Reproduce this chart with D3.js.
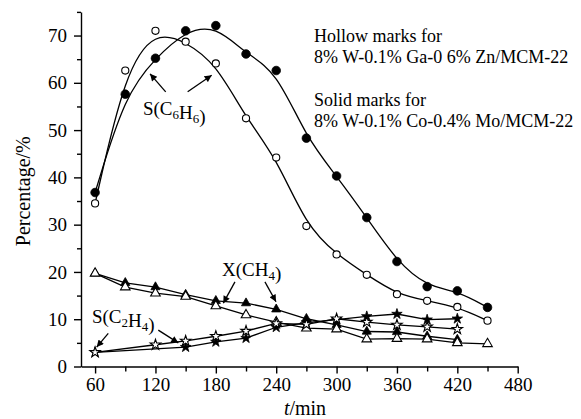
<!DOCTYPE html>
<html>
<head>
<meta charset="utf-8">
<script src="https://cdn.jsdelivr.net/npm/d3@7/dist/d3.min.js"></script>
<style>
  html, body { margin: 0; padding: 0; background: #fff; }
  svg { display: block; }
  text { font-family: "Liberation Serif", "Times New Roman", serif; fill: #000; }
</style>
</head>
<body>
<svg id="chart" width="581" height="419"></svg>
<script>
// Reaction time (min)
const timeAll = [60, 90, 120, 150, 180, 210, 240, 270, 300, 330, 360, 390, 420, 450];
// Benzene selectivity S(C6H6), %
const benzeneHollow = [34.5, 62.6, 71.0, 68.7, 64.1, 52.5, 44.2, 29.7, 23.7, 19.4, 15.3, 13.9, 12.6, 9.7];
const benzeneSolid  = [36.8, 57.6, 65.2, 71.0, 72.1, 66.1, 62.6, 48.3, 40.3, 31.5, 22.2, 16.9, 16.0, 12.5];
// Methane conversion X(CH4), %
const methaneHollow = [19.7, 16.8, 15.5, 14.8, 12.8, 10.9, 9.4, 8.1, 7.9, 5.8, 5.9, 5.8, 5.0, 4.8];
const timeMethaneSolid = [60, 90, 120, 150, 180, 210, 240, 270, 300, 330, 360, 390, 420];
const methaneSolid  = [19.7, 17.7, 16.8, 15.2, 13.9, 13.4, 12.1, 10.1, 8.8, 7.4, 7.3, 6.4, 5.7];
// Ethylene selectivity S(C2H4), %
const timeEthyleneHollow = [60, 120, 150, 180, 210, 240, 270, 300, 330, 360, 390, 420];
const ethyleneHollow = [3.0, 4.6, 5.4, 6.4, 7.5, 9.1, 8.9, 10.1, 9.4, 8.8, 8.4, 7.9];
const timeEthyleneSolid = [60, 150, 180, 210, 240, 270, 300, 330, 360, 390, 420];
const ethyleneSolid = [3.0, 4.1, 5.2, 6.0, 8.3, 9.3, 9.9, 10.6, 11.1, 9.9, 10.1];

// Axis ticks
const xMajorTicks = [60, 120, 180, 240, 300, 360, 420, 480];
const xMinorTicks = [90, 150, 210, 270, 330, 390, 450];
const yMajorTicks = [0, 10, 20, 30, 40, 50, 60, 70];
const yMinorTicks = [5, 15, 25, 35, 45, 55, 65, 75];

const legendLines = [
  "Hollow marks for",
  "8% W-0.1% Ga-0 6% Zn/MCM-22",
  "Solid marks for",
  "8% W-0.1% Co-0.4% Mo/MCM-22"
];

const svg = d3.select("#chart");
const x = d3.scaleLinear().domain([46, 480]).range([81, 517.7]);
const y = d3.scaleLinear().domain([0, 75]).range([366.5, 11.9]);

// ---- axes ----
function styleAxis(g) {
  g.select(".domain").attr("stroke", "#000").attr("stroke-width", 1.4);
  g.selectAll(".tick line").attr("stroke", "#000").attr("stroke-width", 1.4);
}
const xAxis = svg.append("g").attr("transform", `translate(0,${y(0)})`)
  .call(d3.axisBottom(x).tickValues(xMajorTicks).tickSize(7).tickSizeOuter(0).tickPadding(4));
styleAxis(xAxis);
xAxis.selectAll(".tick text").attr("font-size", 19).attr("font-family", "Liberation Serif");
svg.append("g").attr("transform", `translate(0,${y(0)})`)
  .call(d3.axisBottom(x).tickValues(xMinorTicks).tickSize(5).tickSizeOuter(0).tickFormat(""))
  .call(g => { g.select(".domain").remove(); g.selectAll(".tick line").attr("stroke", "#000").attr("stroke-width", 1.4); });

const yAxis = svg.append("g").attr("transform", `translate(${x(46)},0)`)
  .call(d3.axisLeft(y).tickValues(yMajorTicks).tickSize(7).tickSizeOuter(0).tickPadding(7));
styleAxis(yAxis);
yAxis.selectAll(".tick text").attr("font-size", 19).attr("font-family", "Liberation Serif");
svg.append("g").attr("transform", `translate(${x(46)},0)`)
  .call(d3.axisLeft(y).tickValues(yMinorTicks).tickSize(4).tickSizeOuter(0).tickFormat(""))
  .call(g => { g.select(".domain").remove(); g.selectAll(".tick line").attr("stroke", "#000").attr("stroke-width", 1.4); });

// axis titles
svg.append("text")
  .attr("transform", `translate(30,${(y(0) + y(75)) / 2 + 2}) rotate(-90)`)
  .attr("text-anchor", "middle").attr("font-size", 20)
  .text("Percentage/%");
const xt = svg.append("text").attr("x", 305).attr("y", 415)
  .attr("text-anchor", "middle").attr("font-size", 20);
xt.append("tspan").attr("font-style", "italic").text("t");
xt.append("tspan").text("/min");

// ---- series ----
function zipSeries(ts, vs) { return ts.map((t, i) => ({ t, v: vs[i] })); }

const series = [
  { data: zipSeries(timeAll, benzeneSolid),  curve: d3.curveBasis,  symbol: d3.symbolCircle,   size: 58, filled: true },
  { data: zipSeries(timeAll, benzeneHollow), curve: d3.curveBasis,  symbol: d3.symbolCircle,   size: 40, filled: false },
  { data: zipSeries(timeMethaneSolid, methaneSolid), curve: d3.curveLinear, symbol: d3.symbolTriangle, size: 36, filled: true },
  { data: zipSeries(timeAll, methaneHollow), curve: d3.curveLinear, symbol: d3.symbolTriangle, size: 40, filled: false },
  { data: zipSeries(timeEthyleneSolid, ethyleneSolid), curve: d3.curveLinear, symbol: d3.symbolStar, size: 34, filled: true },
  { data: zipSeries(timeEthyleneHollow, ethyleneHollow), curve: d3.curveLinear, symbol: d3.symbolStar, size: 34, filled: false }
];

// lines first, then markers on top
series.forEach(s => {
  const line = d3.line().x(d => x(d.t)).y(d => y(d.v)).curve(s.curve);
  svg.append("path").datum(s.data)
    .attr("d", line).attr("fill", "none").attr("stroke", "#000").attr("stroke-width", 1.3);
});
series.forEach(s => {
  svg.append("g").selectAll("path").data(s.data).join("path")
    .attr("transform", d => `translate(${x(d.t)},${y(d.v)})`)
    .attr("d", d3.symbol().type(s.symbol).size(s.size))
    .attr("fill", s.filled ? "#000" : "#fff")
    .attr("stroke", "#000").attr("stroke-width", s.filled ? 0.8 : 1.1);
});

// ---- annotations (in data units) ----
const defs = svg.append("defs");
defs.append("marker").attr("id", "arrowhead")
  .attr("viewBox", "0 0 10 10").attr("refX", 10).attr("refY", 5)
  .attr("markerWidth", 9).attr("markerHeight", 7).attr("markerUnits", "userSpaceOnUse")
  .attr("orient", "auto")
  .append("path").attr("d", "M0,0 L10,5 L0,10 Z").attr("fill", "#000");

const arrows = [
  [130.2, 58.1, 114.6, 61.9],
  [152.0, 58.1, 175.9, 61.6],
  [199.0, 17.9, 187.4, 13.4],
  [228.8, 17.9, 239.8, 13.7],
  [73.1, 7.0, 61.6, 4.1],
  [122.8, 7.7, 142.7, 5.0]
];
svg.append("g").selectAll("line").data(arrows).join("line")
  .attr("x1", d => x(d[0])).attr("y1", d => y(d[1]))
  .attr("x2", d => x(d[2])).attr("y2", d => y(d[3]))
  .attr("stroke", "#000").attr("stroke-width", 1.3)
  .attr("marker-end", "url(#arrowhead)");

function chemLabel(t, v, parts) {
  const tx = svg.append("text").attr("x", x(t)).attr("y", y(v)).attr("font-size", 19);
  parts.forEach(p => {
    if (p.sub) {
      tx.append("tspan").attr("font-size", 13).attr("dy", 4).text(p.s);
      tx.append("tspan").attr("dy", -4).text("");
    } else {
      tx.append("tspan").text(p.s);
    }
  });
}
chemLabel(107.6, 53.2, [{s: "S(C"}, {s: "6", sub: true}, {s: "H"}, {s: "6", sub: true}, {s: ")"}]);
chemLabel(186.1, 19.1, [{s: "X(CH"}, {s: "4", sub: true}, {s: ")"}]);
chemLabel(56.9, 9.3, [{s: "S(C"}, {s: "2", sub: true}, {s: "H"}, {s: "4", sub: true}, {s: ")"}]);

// catalyst key
const legendY = [41.7, 63.3, 106, 126.7];
svg.append("g").selectAll("text").data(legendLines).join("text")
  .attr("x", 314).attr("y", (d, i) => legendY[i])
  .attr("font-size", 18).text(d => d);
</script>
</body>
</html>
